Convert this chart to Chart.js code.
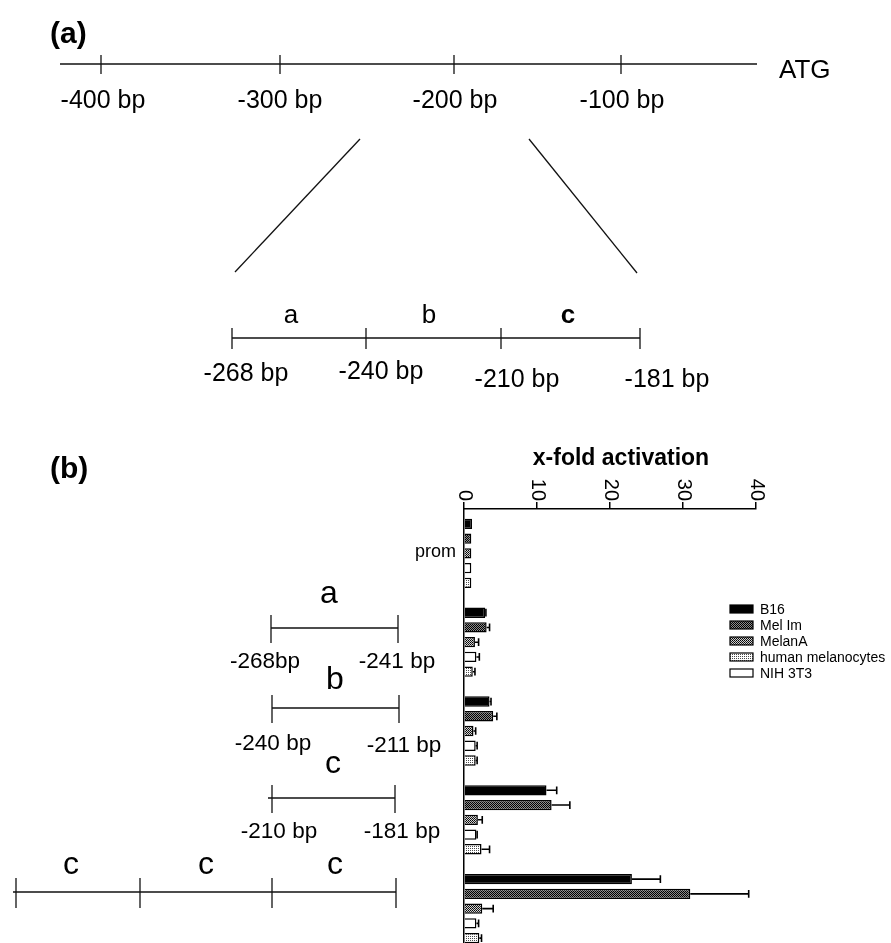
<!DOCTYPE html>
<html>
<head>
<meta charset="utf-8">
<script src="https://cdn.jsdelivr.net/npm/chart.js@4.4.0/dist/chart.umd.min.js"></script>
<style>
  html, body { margin: 0; padding: 0; background: #fff; overflow: hidden; width: 891px; height: 943px; }
  #wrap { position: relative; width: 891px; height: 943px; }
  #chart { position: absolute; left: 0; top: 0; }
  #schema { position: absolute; left: 0; top: 0; pointer-events: none; }
  #schema text { font-family: "Liberation Sans", Arial, sans-serif; fill: #000; }
  #schema line { stroke: #111; stroke-width: 1.3; }
</style>
</head>
<body>
<div id="wrap">
<canvas id="chart" width="891" height="953"></canvas>
<svg id="schema" width="891" height="943">
  <!-- (a) Promotorschema -->
  <text x="50" y="43" font-size="30" font-weight="bold">(a)</text>
  <line x1="60" y1="64" x2="757" y2="64"/>
  <line x1="101" y1="55" x2="101" y2="74"/>
  <line x1="280" y1="55" x2="280" y2="74"/>
  <line x1="454" y1="55" x2="454" y2="74"/>
  <line x1="621" y1="55" x2="621" y2="74"/>
  <text x="103" y="108" font-size="25" text-anchor="middle">-400 bp</text>
  <text x="280" y="108" font-size="25" text-anchor="middle">-300 bp</text>
  <text x="455" y="108" font-size="25" text-anchor="middle">-200 bp</text>
  <text x="622" y="108" font-size="25" text-anchor="middle">-100 bp</text>
  <text x="779" y="78" font-size="26">ATG</text>
  <line x1="360" y1="139" x2="235" y2="272"/>
  <line x1="529" y1="139" x2="637" y2="273"/>
  <line x1="232" y1="338" x2="640" y2="338"/>
  <line x1="232" y1="328" x2="232" y2="349"/>
  <line x1="366" y1="328" x2="366" y2="349"/>
  <line x1="501" y1="328" x2="501" y2="349"/>
  <line x1="640" y1="328" x2="640" y2="349"/>
  <text x="291" y="323" font-size="26" text-anchor="middle">a</text>
  <text x="429" y="323" font-size="26" text-anchor="middle">b</text>
  <text x="568" y="323" font-size="26" font-weight="bold" text-anchor="middle">c</text>
  <text x="246" y="381" font-size="25" text-anchor="middle">-268 bp</text>
  <text x="381" y="379" font-size="25" text-anchor="middle">-240 bp</text>
  <text x="517" y="387" font-size="25" text-anchor="middle">-210 bp</text>
  <text x="667" y="387" font-size="25" text-anchor="middle">-181 bp</text>

  <!-- (b) Konstrukte -->
  <text x="50" y="478" font-size="30" font-weight="bold">(b)</text>
  <text x="621" y="465" font-size="23" font-weight="bold" text-anchor="middle">x-fold activation</text>
  <text x="456" y="557" font-size="18" text-anchor="end">prom</text>

  <text x="329" y="603" font-size="32" text-anchor="middle">a</text>
  <line x1="271" y1="628" x2="398" y2="628"/>
  <line x1="271" y1="615" x2="271" y2="643"/>
  <line x1="398" y1="615" x2="398" y2="643"/>
  <text x="265" y="668" font-size="22.5" text-anchor="middle">-268bp</text>
  <text x="397" y="668" font-size="22.5" text-anchor="middle">-241 bp</text>

  <text x="335" y="689" font-size="32" text-anchor="middle">b</text>
  <line x1="272" y1="708" x2="399" y2="708"/>
  <line x1="272" y1="695" x2="272" y2="723"/>
  <line x1="399" y1="695" x2="399" y2="723"/>
  <text x="273" y="750" font-size="22.5" text-anchor="middle">-240 bp</text>
  <text x="404" y="752" font-size="22.5" text-anchor="middle">-211 bp</text>

  <text x="333" y="773" font-size="32" text-anchor="middle">c</text>
  <line x1="268" y1="798" x2="395" y2="798"/>
  <line x1="272" y1="785" x2="272" y2="813"/>
  <line x1="395" y1="785" x2="395" y2="813"/>
  <text x="279" y="838" font-size="22.5" text-anchor="middle">-210 bp</text>
  <text x="402" y="838" font-size="22.5" text-anchor="middle">-181 bp</text>

  <text x="71" y="874" font-size="32" text-anchor="middle">c</text>
  <text x="206" y="874" font-size="32" text-anchor="middle">c</text>
  <text x="335" y="874" font-size="32" text-anchor="middle">c</text>
  <line x1="13" y1="892" x2="396" y2="892"/>
  <line x1="16" y1="878" x2="16" y2="908"/>
  <line x1="140" y1="878" x2="140" y2="908"/>
  <line x1="272" y1="878" x2="272" y2="908"/>
  <line x1="396" y1="878" x2="396" y2="908"/>
</svg>
</div>
<script>
// Daten
const categories = ['prom', 'a', 'b', 'c', 'c-c-c'];
const xTicks = [0, 10, 20, 30, 40];

const b16 = [1.1, 2.9, 3.5, 11.3, 23.0];
const b16Err = [0, 0.1, 0.2, 1.4, 3.9];
const melIm = [1.0, 3.1, 4.0, 12.0, 31.0];
const melImErr = [0, 0.4, 0.5, 2.5, 8.0];
const melanA = [1.0, 1.5, 1.3, 1.9, 2.5];
const melanAErr = [0, 0.5, 0.3, 0.6, 1.5];
const nih3t3 = [1.0, 1.7, 1.6, 1.7, 1.7];
const nih3t3Err = [0, 0.4, 0.2, 0.1, 0.3];
const humanMel = [1.0, 1.2, 1.6, 2.4, 2.1];
const humanMelErr = [0, 0.3, 0.2, 1.1, 0.3];

// Legende in der Reihenfolge der Abbildung (Index in datasets)
const legendOrder = [0, 1, 2, 4, 3];

const FONT = '"Liberation Sans", Arial, sans-serif';
Chart.defaults.font.family = FONT;
Chart.defaults.color = '#000';

// Rastermuster fuer die Balken
function makePattern(size, cells) {
    const c = document.createElement('canvas');
    c.width = size; c.height = size;
    const g = c.getContext('2d');
    g.fillStyle = '#fff';
    g.fillRect(0, 0, size, size);
    cells.forEach(([x, y, col]) => { g.fillStyle = col; g.fillRect(x, y, 1, 1); });
    return g.createPattern(c, 'repeat');
}
const patDense = makePattern(2, [[0, 0, '#000'], [1, 1, '#000'], [1, 0, '#8a8a8a'], [0, 1, '#8a8a8a']]);
const patMedium = makePattern(2, [[0, 0, '#000'], [1, 1, '#222'], [1, 0, '#d0d0d0'], [0, 1, '#d0d0d0']]);
const patLight = makePattern(2, [[0, 0, '#4a4a4a']]);

function ds(label, data, err, fill) {
    return {
        label: label,
        data: data,
        err: err,
        backgroundColor: fill,
        borderColor: '#000',
        borderWidth: 1.5,
        borderSkipped: 'start'
    };
}

// Fehlerbalken, gedrehte Achsenbeschriftung und Legende
const extras = {
    id: 'extras',
    afterDatasetsDraw(chart) {
        const ctx = chart.ctx;
        const xs = chart.scales.x;
        ctx.save();
        ctx.strokeStyle = '#000';
        ctx.lineWidth = 1.6;
        chart.data.datasets.forEach((d, i) => {
            chart.getDatasetMeta(i).data.forEach((bar, j) => {
                const e = d.err[j];
                if (!e) return;
                const x1 = bar.x;
                const x2 = xs.getPixelForValue(d.data[j] + e);
                const h = bar.height * 0.75;
                ctx.beginPath();
                ctx.moveTo(x1, bar.y);
                ctx.lineTo(x2, bar.y);
                ctx.moveTo(x2, bar.y - h / 2);
                ctx.lineTo(x2, bar.y + h / 2);
                ctx.stroke();
            });
        });
        ctx.restore();
    },
    afterDraw(chart) {
        const ctx = chart.ctx;
        const xs = chart.scales.x;
        const top = chart.chartArea.top;

        // Skalenbeschriftung, 90 Grad im Uhrzeigersinn gedreht
        ctx.save();
        ctx.font = '20px ' + FONT;
        ctx.fillStyle = '#000';
        ctx.textAlign = 'right';
        ctx.textBaseline = 'middle';
        xs.ticks.forEach(t => {
            ctx.save();
            ctx.translate(xs.getPixelForValue(t.value) + 1, top - 8);
            ctx.rotate(Math.PI / 2);
            ctx.fillText(String(t.value), 0, 0);
            ctx.restore();
        });
        ctx.restore();

        // Legende
        ctx.save();
        ctx.font = '14px ' + FONT;
        ctx.textAlign = 'left';
        ctx.textBaseline = 'middle';
        legendOrder.forEach((idx, k) => {
            const d = chart.data.datasets[idx];
            const y = 609 + k * 16;
            ctx.fillStyle = d.backgroundColor;
            ctx.fillRect(730, y - 4, 23, 8);
            ctx.strokeStyle = '#000';
            ctx.lineWidth = 1.2;
            ctx.strokeRect(730, y - 4, 23, 8);
            ctx.fillStyle = '#000';
            ctx.fillText(d.label, 760, y + 1);
        });
        ctx.restore();
    }
};

const ctx = document.getElementById('chart').getContext('2d');
window.myChart = new Chart(ctx, {
    type: 'bar',
    data: {
        labels: categories,
        datasets: [
            ds('B16', b16, b16Err, '#000'),
            ds('Mel Im', melIm, melImErr, patDense),
            ds('MelanA', melanA, melanAErr, patMedium),
            ds('NIH 3T3', nih3t3, nih3t3Err, '#fff'),
            ds('human melanocytes', humanMel, humanMelErr, patLight)
        ]
    },
    options: {
        indexAxis: 'y',
        responsive: false,
        animation: false,
        events: [],
        categoryPercentage: 0.83,
        barPercentage: 0.7,
        layout: { padding: { left: 464, right: 135, top: 509, bottom: 0 } },
        plugins: {
            legend: { display: false },
            tooltip: { enabled: false }
        },
        scales: {
            x: {
                position: 'top',
                min: xTicks[0],
                max: xTicks[xTicks.length - 1],
                ticks: { stepSize: xTicks[1] - xTicks[0], display: false },
                grid: { drawOnChartArea: false, drawTicks: true, tickLength: 7, color: '#000', lineWidth: 1.5 },
                border: { color: '#000', width: 1.5 },
                afterFit: s => { s.height = 0; }
            },
            y: {
                ticks: { display: false },
                grid: { display: false, drawTicks: false },
                border: { color: '#000', width: 1.5 },
                afterFit: s => { s.width = 0; }
            }
        }
    },
    plugins: [extras]
});
</script>
</body>
</html>
